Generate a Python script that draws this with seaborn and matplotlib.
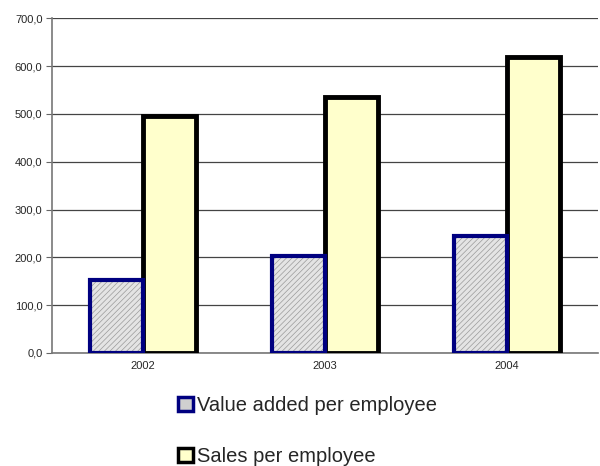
import pandas as pd
import matplotlib
matplotlib.use("Agg")
import matplotlib.pyplot as plt
import seaborn as sns

# Données
years = ["2002", "2003", "2004"]
value_added = [153.0, 203.0, 245.0]
sales = [495.0, 535.0, 618.0]
series = ["Value added per employee", "Sales per employee"]

df = pd.DataFrame({
    "year": years * 2,
    "value": value_added + sales,
    "serie": [series[0]] * 3 + [series[1]] * 3,
})

sns.set_theme(style="white")
plt.rcParams["font.family"] = ["Liberation Sans", "DejaVu Sans"]
plt.rcParams["hatch.linewidth"] = 0.5

fig = plt.figure(figsize=(6.0, 4.66), dpi=100)
ax = fig.add_axes([0.087, 0.2425, 0.91, 0.7185])

sns.barplot(data=df, x="year", y="value", hue="serie", ax=ax,
            palette=["#e4e4e4", "#ffffcc"], width=0.58, errorbar=None,
            legend=False, saturation=1, zorder=3)

bars = list(ax.patches[:6])
for i, p in enumerate(bars):
    if i < 3:
        # hachures grises, puis contour bleu marine par-dessus
        p.set_edgecolor("#9a9a9a")
        p.set_hatch("//////")
        p.set_linewidth(0)
        ax.add_patch(plt.Rectangle(p.get_xy(), p.get_width(), p.get_height(),
                                   fill=False, edgecolor="#000080",
                                   linewidth=3, zorder=4))
    else:
        p.set_edgecolor("black")
        p.set_linewidth(3.5)

ax.set_ylim(0, 700)
ax.set_xlim(-0.5, 2.5)
ax.set_yticks(range(0, 701, 100))
ax.set_yticklabels([f"{v},0" for v in range(0, 701, 100)], fontsize=8)
ax.set_xticks([0, 1, 2])
ax.set_xticklabels(years, fontsize=8)
ax.set_xticks([0.5, 1.5], minor=True)
ax.tick_params(axis="x", which="major", length=0, pad=6)
ax.tick_params(axis="x", which="minor", length=5, width=0.8, color="#666666", direction="out")
ax.tick_params(axis="y", length=4, width=0.8, color="#666666", direction="out", left=True, pad=3)
ax.set_xlabel("")
ax.set_ylabel("")

ax.yaxis.grid(True, color="#444444", linewidth=0.9, zorder=0)
ax.set_axisbelow(True)
for s in ["top", "right"]:
    ax.spines[s].set_visible(False)
ax.spines["left"].set_color("#777777")
ax.spines["bottom"].set_color("#777777")
ax.spines["left"].set_linewidth(1.2)
ax.spines["bottom"].set_linewidth(1.2)

h1 = plt.Rectangle((0, 0), 1, 1, facecolor="#d0d0d0", edgecolor="#000080",
                   linewidth=2.5)
h2 = plt.Rectangle((0, 0), 1, 1, facecolor="#ffffcc", edgecolor="black",
                   linewidth=2.5)
fig.legend([h1, h2], series, loc="upper left", bbox_to_anchor=(0.28, 0.172),
           frameon=False, fontsize=14.5, handlelength=0.75, handleheight=0.75,
           handletextpad=0.2, labelspacing=1.6, borderpad=0)

fig.savefig("out.png", dpi=100)
